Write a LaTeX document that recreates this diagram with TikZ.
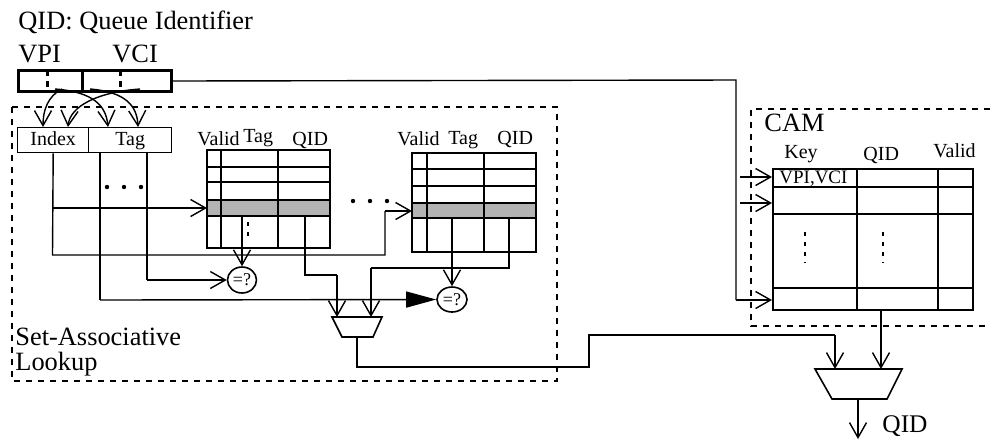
\documentclass[tikz,border=0pt]{standalone}
\usepackage{fontspec}
\setmainfont{Liberation Serif}
\usetikzlibrary{arrows.meta,shapes.geometric}
\definecolor{rowgray}{RGB}{179,179,179}
\definecolor{wirecolor}{RGB}{0,0,0}

\tikzset{
  wire/.style={draw=wirecolor, line width=0.7pt},
  barb/.style={wire, -{Straight Barb[length=7.5pt,width=8.5pt]}},
  bigtip/.style={wire, -{Triangle[length=15pt,width=8pt]}},
  gridline/.style={draw=black, line width=1pt},
  boxline/.style={draw=black, line width=0.6pt, dash pattern=on 3pt off 3pt},
  vdots/.style={draw=black, line width=1pt, dash pattern=on 2pt off 3pt},
  lbl/.style={anchor=base west, inner sep=0pt, font=\fontsize{13.2}{15}\selectfont},
  hdr/.style={anchor=base west, inner sep=0pt, font=\fontsize{10}{12}\selectfont},
  cmp/.style={ellipse, draw, line width=0.8pt, inner sep=0pt, font=\fontsize{9}{10}\selectfont},
  field/.style={draw, line width=0.7pt, inner sep=0pt, anchor=north west, minimum height=12.5pt, text height=7pt, text depth=2pt, font=\fontsize{10}{12}\selectfont},
}

\begin{document}
\begin{tikzpicture}[x=0.5pt, y=-0.5pt]
\useasboundingbox (0,0) rectangle (990,441);

% 1. HEADER REGISTER
\node[lbl] (title) at (18,29) {QID: Queue Identifier};
\node[lbl] (vpi) at (18,62) {VPI};
\node[lbl] (vci) at (112,62) {VCI};
\node[draw, line width=1.5pt, inner sep=0pt, anchor=north west, minimum width=76.5pt, minimum height=10.5pt] (reg) at (17,69) {};
\draw[line width=1.5pt] (82,69) -- (82,90);
\draw[line width=1.5pt, dash pattern=on 3pt off 2.5pt] (47,70) -- (47,89);
\draw[line width=1.5pt, dash pattern=on 3pt off 2.5pt] (120,70) -- (120,89);

% 2. SET-ASSOCIATIVE LOOKUP
\draw[boxline] (12,107) rectangle (557,381);
\node[lbl] (setlbl) at (15,345) {Set-Associative};
\node[lbl] (looklbl) at (15,370) {Lookup};

% Index / Tag split
\node[field, minimum width=35.5pt] (idx) at (17,127) {Index};
\node[field, minimum width=41.5pt] (tag) at (88,127) {Tag};
\draw[barb] (62,89) .. controls (48,96) and (43,110) .. (43,127);
\draw[barb] (55,89) .. controls (94,92) and (106,106) .. (108,127);
\draw[barb] (140,89) .. controls (98,92) and (70,106) .. (68,127);
\draw[barb] (90,89) .. controls (126,92) and (137,106) .. (138,127);

% Tag bits
\fill (107,187) circle (1.1pt);
\fill (124,187) circle (1.1pt);
\fill (141,187) circle (1.1pt);

% Way 1 table
\fill[rowgray] (207,200) rectangle (330,216);
\draw[gridline] (207,150) rectangle (330,248);
\draw[gridline] (221,150) -- (221,248);
\draw[gridline] (278,150) -- (278,248);
\draw[gridline] (207,167) -- (330,167);
\draw[gridline] (207,182) -- (330,182);
\draw[gridline] (207,200) -- (330,200);
\draw[gridline] (207,216) -- (330,216);
\node[hdr] (validA) at (197,145) {Valid};
\node[hdr] (tagA) at (243,142) {Tag};
\node[hdr] (qidA) at (292,145) {QID};
\draw[vdots] (248,222) -- (248,240);

% Way n table
\fill[rowgray] (412,203) rectangle (536,218);
\draw[gridline] (412,153) rectangle (536,252);
\draw[gridline] (427,153) -- (427,252);
\draw[gridline] (484,153) -- (484,252);
\draw[gridline] (412,169) -- (536,169);
\draw[gridline] (412,186) -- (536,186);
\draw[gridline] (412,203) -- (536,203);
\draw[gridline] (412,218) -- (536,218);
\node[hdr] (validB) at (397,145) {Valid};
\node[hdr] (tagB) at (448,144) {Tag};
\node[hdr] (qidB) at (497,144) {QID};
\fill (353,201) circle (1.1pt);
\fill (370,201) circle (1.1pt);
\fill (387,201) circle (1.1pt);

% Comparators
\node[cmp, minimum width=14.5pt, minimum height=13pt] (cmpA) at (242,280) {=?};
\node[cmp, minimum width=15pt, minimum height=12.5pt] (cmpB) at (452,299.5) {=?};

% Way mux
\draw[line width=0.8pt] (332,317) -- (382,317) -- (373,337) -- (342,337) -- cycle;
\coordinate (muxAl) at (337,317);
\coordinate (muxAr) at (371,317);
\coordinate (muxAo) at (357,337);

% Index wires
\draw[wire] (idx.south) -- (52.5,255) -- (385,255) -- (385,211);
\draw[barb] (385,211) -- (412,211);
\draw[barb] (52.5,208) -- (207,208);
% Tag wires
\draw[wire] (100,152) -- (100,300);
\draw[bigtip] (100,300) -- (cmpB.west);
\draw[wire] (147,152) -- (147,280);
\draw[barb] (147,280) -- (cmpA.west);
% Way outputs
\draw[barb] (242,216) -- (cmpA.north);
\draw[wire] (305,216) -- (305,275) -- (337,275);
\draw[barb] (337,275) -- (muxAl);
\draw[barb] (452,218) -- (cmpB.north);
\draw[wire] (509,218) -- (509,268) -- (371,268);
\draw[barb] (371,268) -- (muxAr);

% 3. CAM
\draw[boxline] (990,109) -- (751,109) -- (751,326) -- (990,326);
\node[lbl] (camlbl) at (764,131) {CAM};
\node[draw, line width=1pt, inner sep=0pt, anchor=north west, minimum width=100pt, minimum height=70.5pt] (camtab) at (772,168) {};
\draw[gridline] (857,168) -- (857,309);
\draw[gridline] (938,168) -- (938,311);
\draw[gridline] (772,187) -- (972,187);
\draw[gridline] (772,214) -- (972,214);
\draw[gridline] (772,288) -- (972,288);
\node[hdr] (keyC) at (784,158) {Key};
\node[hdr] (qidC) at (863,160) {QID};
\node[hdr] (validC) at (933,157) {Valid};
\node[anchor=base west, inner sep=0pt, font=\fontsize{9.5}{11}\selectfont] (keyval) at (779,183) {VPI,VCI};
\draw[vdots] (805,232) -- (805,263);
\draw[vdots] (883,232) -- (883,263);

% Register to CAM
\draw[wire] (reg.east) -- (736,80) -- (736,300);
\draw[barb] (736,300) -- (772,300);
\draw[barb] (740,177) -- (772,177);
\draw[barb] (740,203) -- (772,203);

% 4. OUTPUT MUX
\draw[line width=0.8pt] (815,369) -- (902,369) -- (887,399) -- (832,399) -- cycle;
\coordinate (muxBl) at (835,369);
\coordinate (muxBr) at (881,369);
\coordinate (muxBo) at (858,399);
\draw[wire] (muxAo) -- (357,367) -- (589,367) -- (589,335) -- (835,335);
\draw[barb] (835,335) -- (muxBl);
\draw[barb] (881,309) -- (muxBr);
\draw[barb] (muxBo) -- (858,439);
\node[lbl, font=\fontsize{12.7}{15}\selectfont] (qidout) at (882,432) {QID};

\end{tikzpicture}
\end{document}
